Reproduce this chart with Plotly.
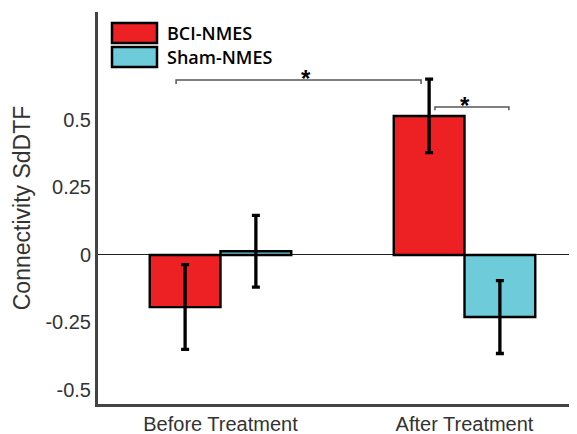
import plotly.graph_objects as go

categories = ["Before Treatment", "After Treatment"]
series_names = ["BCI-NMES", "Sham-NMES"]
bci_values = [-0.193, 0.515]
bci_errors = [0.157, 0.136]
sham_values = [0.014, -0.23]
sham_errors = [0.133, 0.135]
y_tick_values = [-0.5, -0.25, 0, 0.25, 0.5]
y_tick_labels = ["-0.5", "-0.25", "0", "0.25", "0.5"]

RED = "#ED2024"
CYAN = "#6DCBDA"
FONT = "Liberation Sans, Arial, sans-serif"

fig = go.Figure()
for name, vals, errs, col in [(series_names[0], bci_values, bci_errors, RED),
                              (series_names[1], sham_values, sham_errors, CYAN)]:
    fig.add_trace(go.Bar(
        x=categories, y=vals, name=name,
        marker=dict(color=col, line=dict(color="black", width=2.4)),
        error_y=dict(type="data", array=errs, visible=True, color="black",
                     thickness=3.3, width=4),
        showlegend=False,
    ))

shapes = []
annotations = []


def bracket(x0, x1, y, drop):
    shapes.append(dict(type="path", xref="x", yref="y",
                       path=f"M {x0},{y-drop} L {x0},{y} L {x1},{y} L {x1},{y-drop}",
                       line=dict(color="#555555", width=1.5)))


def star(x, y):
    annotations.append(dict(x=x, y=y, xref="x", yref="y", text="<b>*</b>", showarrow=False,
                            yanchor="middle", yshift=2,
                            font=dict(size=24, color="black", family=FONT)))


bracket(-0.182, 0.822, 0.648, 0.015)
bracket(0.879, 1.182, 0.548, 0.012)
star(0.35, 0.648)
star(1.002, 0.548)

# custom legend with large swatches
legend_items = [(series_names[0], RED, 23), (series_names[1], CYAN, 47)]
for name, col, top in legend_items:
    shapes.append(dict(type="rect", xref="paper", yref="paper",
                       x0=(112 - 98) / 479, x1=(157 - 98) / 479,
                       y0=1 - (top + 20 - 12) / 392, y1=1 - (top - 12) / 392,
                       fillcolor=col, line=dict(color="black", width=2.5)))
    annotations.append(dict(xref="paper", yref="paper", x=(165 - 98) / 479,
                            y=1 - (top + 10 - 12) / 392, text=name, showarrow=False,
                            xanchor="left", yanchor="middle",
                            font=dict(size=18, color="black", family="Open Sans", weight=600)))

fig.update_layout(
    width=569, height=426,
    margin=dict(l=90, r=0, t=4, b=30, autoexpand=False),
    paper_bgcolor="white", plot_bgcolor="white",
    barmode="group", bargap=0.42, bargroupgap=0,
    font=dict(family=FONT, color="#333333"),
    shapes=shapes, annotations=annotations,
    xaxis=dict(range=[-0.502, 1.461], showline=True, linecolor="#444444", linewidth=3,
               ticks="", tickfont=dict(size=20, color="#333333"), showgrid=False,
               automargin=False),
    yaxis=dict(range=[-0.552, 0.9], showline=True, linecolor="#444444", linewidth=3,
               tickvals=y_tick_values, ticktext=y_tick_labels, ticks="",
               tickfont=dict(size=20, color="#333333"), showgrid=False,
               zeroline=True, zerolinecolor="#222222", zerolinewidth=1,
               automargin=False,
               title=dict(text="Connectivity SdDTF", font=dict(size=23, color="#333333"),
                          standoff=9)),
)

fig.write_html("out.html")
